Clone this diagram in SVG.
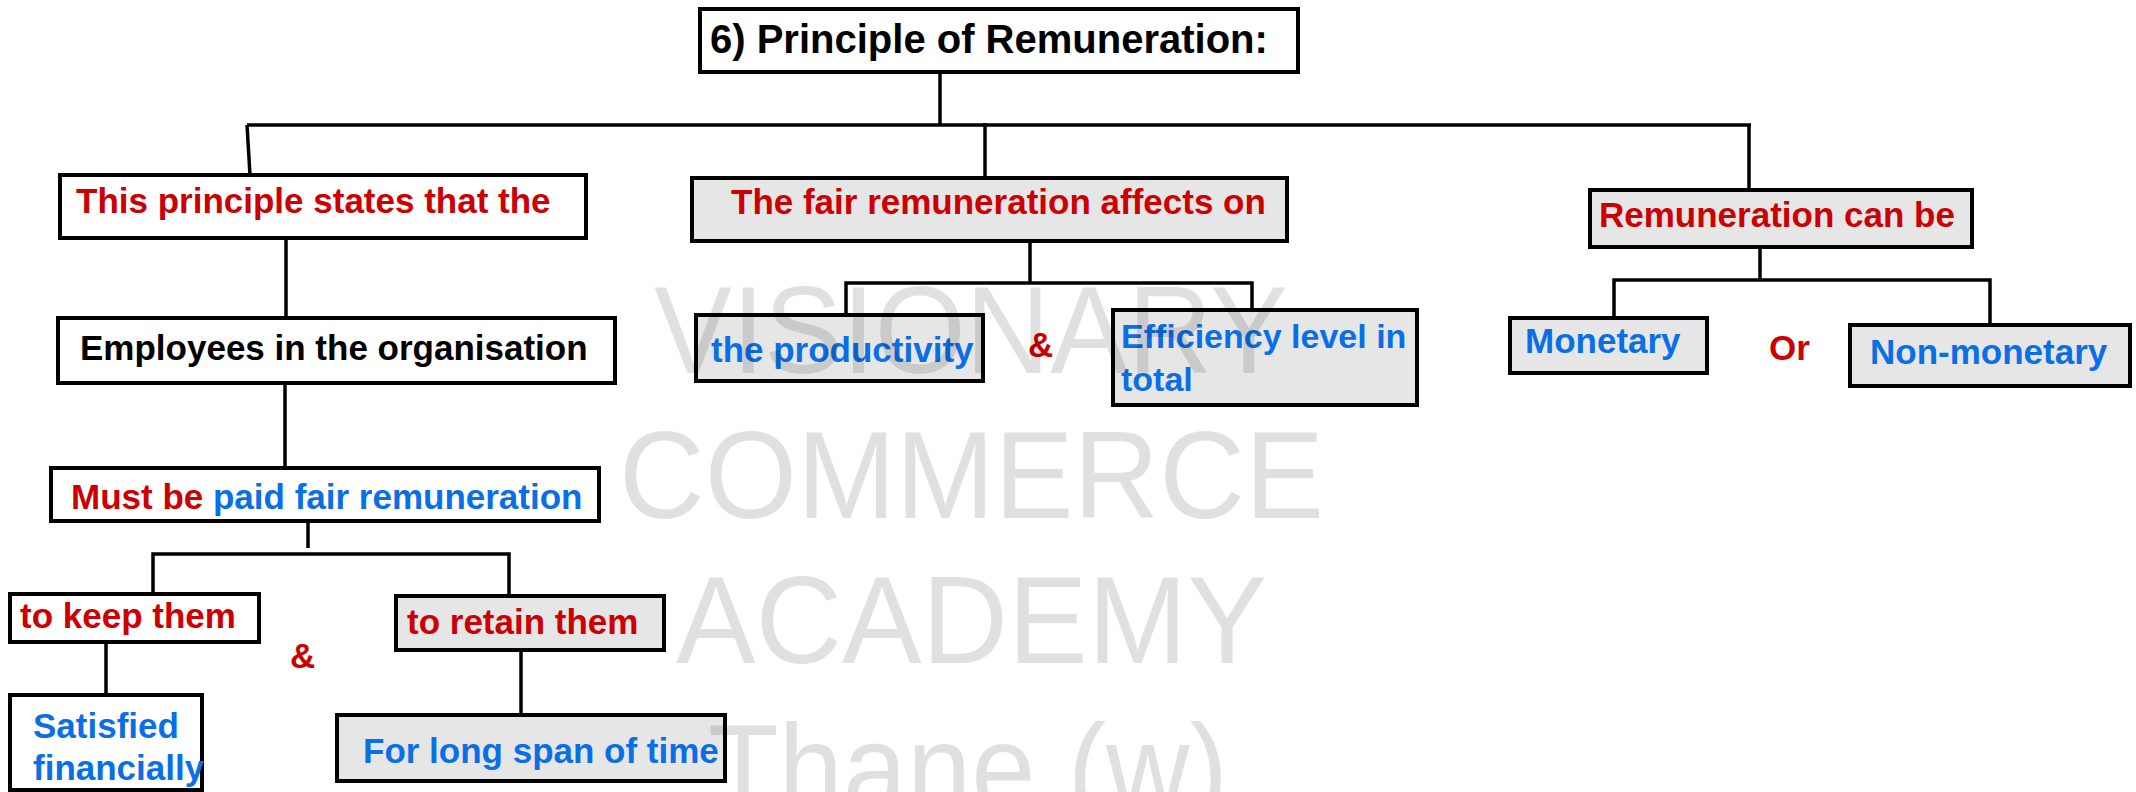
<svg xmlns="http://www.w3.org/2000/svg" width="2136" height="792" viewBox="0 0 2136 792">
<style>
.box{stroke:#000;stroke-width:4;fill:#fff}
.g{fill:#e6e6e6}
.t{font-family:"Liberation Sans",Arial,sans-serif;font-weight:bold;font-size:35px}
.tt{font-size:40px}
.ts{font-size:34px}
.r{fill:#cc0000}
.b{fill:#0a6fe6}
.k{fill:#000}
.c{stroke:#000;stroke-width:3.5;fill:none}
.wm{font-family:"Liberation Sans",Arial,sans-serif;font-size:124px;fill:#000;fill-opacity:0.12}
</style>
<rect width="2136" height="792" fill="#fff"/>
<g id="connectors">
<path class="c" d="M940 72V125"/>
<path class="c" stroke-width="5" d="M247 125H1751"/>
<path class="c" d="M247 125L250 175"/>
<path class="c" d="M985 123V178"/>
<path class="c" d="M1749 125V190"/>
<path class="c" d="M286 238V318"/>
<path class="c" d="M285 383V468"/>
<path class="c" d="M308 521V548"/>
<path class="c" d="M153 596V554H509V596"/>
<path class="c" d="M106 642V698"/>
<path class="c" d="M521 650V715"/>
<path class="c" d="M1030 241V283"/>
<path class="c" d="M846 315V283H1252V310"/>
<path class="c" d="M1760 247V280"/>
<path class="c" d="M1614 318V280H1990V325"/>
</g>
<g id="title">
<rect class="box" x="700" y="9" width="598" height="63"/>
<text class="t tt k" x="710" y="53">6) Principle of Remuneration:</text>
</g>
<g id="principle">
<rect class="box" x="60" y="175" width="526" height="63"/>
<text class="t r" x="76" y="213">This principle states that the</text>
</g>
<g id="employees">
<rect class="box" x="58" y="318" width="557" height="65"/>
<text class="t k" x="80" y="360">Employees in the organisation</text>
</g>
<g id="must">
<rect class="box" x="51" y="468" width="548" height="53"/>
<text class="t" x="71" y="509"><tspan class="r">Must be </tspan><tspan class="b">paid fair remuneration</tspan></text>
</g>
<g id="keep">
<rect class="box" x="10" y="594" width="249" height="48"/>
<text class="t r" x="20" y="628">to keep them</text>
</g>
<g id="amp1">
<text class="t r" x="290" y="668">&amp;</text>
</g>
<g id="retain">
<rect class="box g" x="396" y="596" width="268" height="54"/>
<text class="t r" x="407" y="634">to retain them</text>
</g>
<g id="satisfied">
<rect class="box" x="10" y="695" width="192" height="95"/>
<text class="t b" x="33" y="738">Satisfied</text>
<text class="t b" x="33" y="780">financially</text>
</g>
<g id="longspan">
<rect class="box g" x="337" y="715" width="388" height="66"/>
<text class="t b" x="363" y="763">For long span of time</text>
</g>
<g id="affects">
<rect class="box g" x="692" y="178" width="595" height="63"/>
<text class="t r" x="731" y="214">The fair remuneration affects on</text>
</g>
<g id="productivity">
<rect class="box g" x="696" y="315" width="287" height="66"/>
<text class="t b" x="711" y="362">the productivity</text>
</g>
<g id="amp2">
<text class="t r" x="1028" y="357">&amp;</text>
</g>
<g id="efficiency">
<rect class="box g" x="1113" y="310" width="304" height="95"/>
<text class="t ts b" x="1121" y="348">Efficiency level in</text>
<text class="t ts b" x="1121" y="391">total</text>
</g>
<g id="canbe">
<rect class="box g" x="1590" y="190" width="382" height="57"/>
<text class="t r" x="1599" y="227">Remuneration can be</text>
</g>
<g id="monetary">
<rect class="box g" x="1510" y="318" width="197" height="55"/>
<text class="t b" x="1525" y="353">Monetary</text>
</g>
<g id="or">
<text class="t r" x="1769" y="360">Or</text>
</g>
<g id="nonmonetary">
<rect class="box g" x="1850" y="325" width="280" height="61"/>
<text class="t b" x="1870" y="364">Non-monetary</text>
</g>
<g id="watermark">
<text class="wm" x="654" y="373" textLength="634" lengthAdjust="spacingAndGlyphs">VISIONARY</text>
<text class="wm" x="619" y="518" textLength="705" lengthAdjust="spacingAndGlyphs">COMMERCE</text>
<text class="wm" x="676" y="663" textLength="591" lengthAdjust="spacingAndGlyphs">ACADEMY</text>
<text class="wm" x="708" y="811" textLength="520" lengthAdjust="spacingAndGlyphs">Thane (w)</text>
</g>
</svg>
